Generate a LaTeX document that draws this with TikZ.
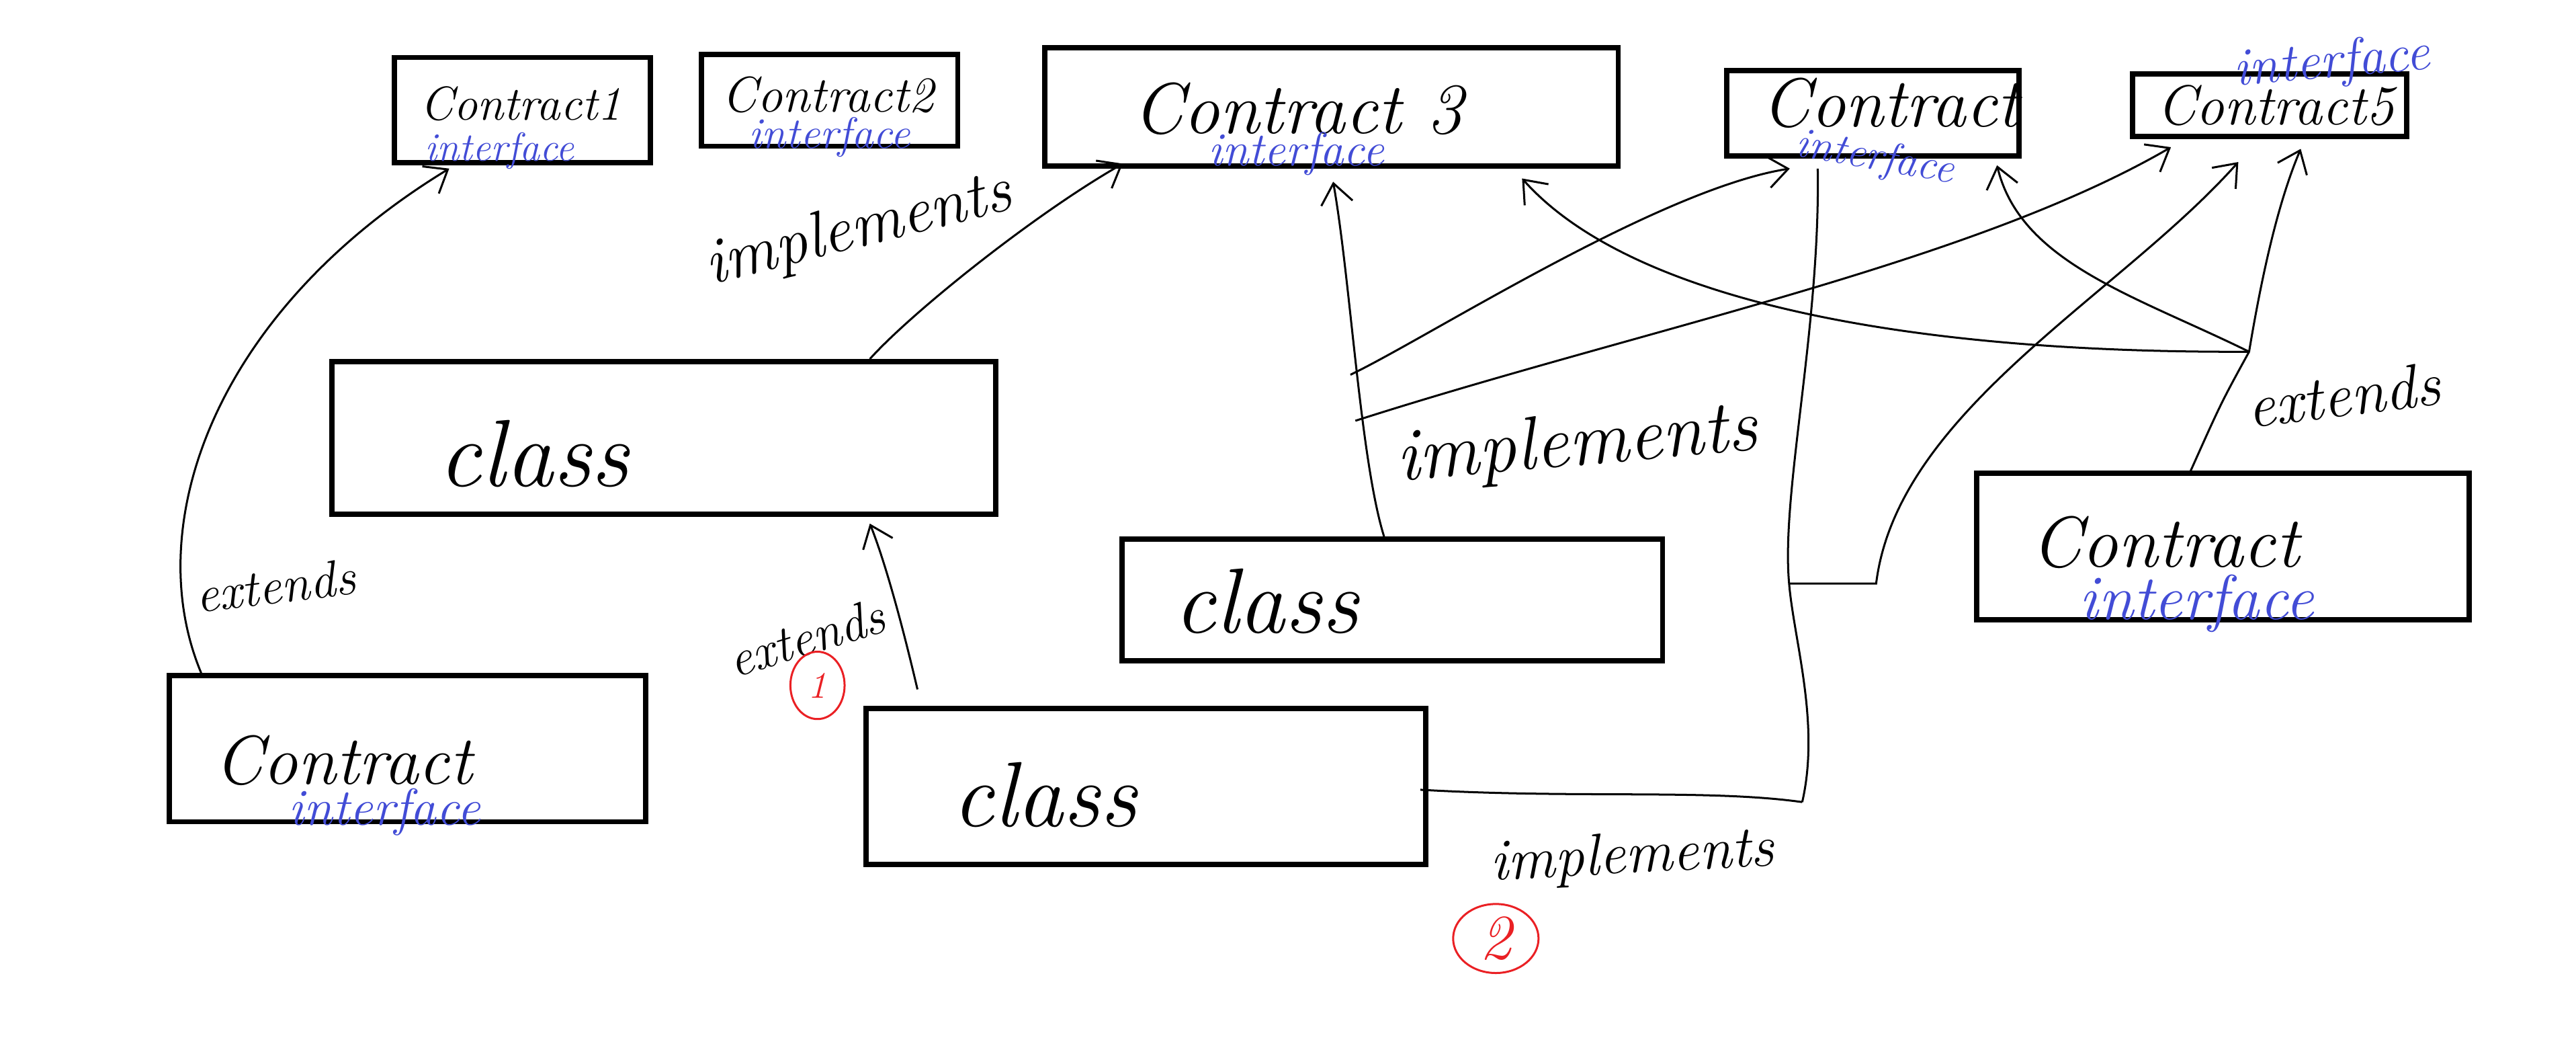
\documentclass[tikz,border=0pt]{standalone}
\usepackage{fontspec}
\usetikzlibrary{arrows.meta,calc,shapes.geometric}

\definecolor{ifblue}{RGB}{66,76,214}
\definecolor{numred}{RGB}{234,32,36}
\newcommand{\hf}[1]{\fontsize{#1}{#1}\selectfont\itshape}

\tikzset{
  box/.style={draw, line width=1.8pt, inner sep=0pt},
  word/.style={inner sep=0pt, anchor=base},
  iface/.style={word, text=ifblue},
  rel/.style={line width=0.7pt, -{Straight Barb[length=7pt,width=11pt]}},
  link/.style={line width=0.7pt},
  numring/.style={draw=numred, text=numred, line width=0.7pt, ellipse, inner sep=0pt}
}

\begin{document}
\begin{tikzpicture}[x=0.02cm, y=-0.02cm]
\useasboundingbox (0,0) rectangle (1568,641);

% interfaces along the top
\node[box, minimum width=3.12cm, minimum height=1.28cm] (c1) at (318,67) {};
\node[box, minimum width=3.12cm, minimum height=1.12cm] (c2) at (505,61) {};
\node[box, minimum width=6.98cm, minimum height=1.44cm] (c3) at (810.5,65) {};
\node[box, minimum width=3.56cm, minimum height=1.04cm] (c4) at (1140,69) {};
\node[box, minimum width=3.34cm, minimum height=0.76cm] (c5) at (1381.5,64) {};
% classes
\node[box, minimum width=8.08cm, minimum height=1.86cm] (cls1) at (404,266.5) {};
\node[box, minimum width=6.58cm, minimum height=1.48cm] (cls2) at (847.5,365) {};
\node[box, minimum width=6.82cm, minimum height=1.9cm] (cls3) at (697.5,478.5) {};
% lower interfaces
\node[box, minimum width=5.8cm, minimum height=1.78cm] (cl) at (248,455.5) {};
\node[box, minimum width=6cm, minimum height=1.78cm] (cr) at (1353,332.5) {};

% texts in the boxes
\node[word, font=\hf{16.5}] (c1name) at (317,73) {Contract1};
\node[iface, font=\hf{14}] (c1kind) at (304,98) {interface};
\node[word, font=\hf{17.4}] (c2name) at (504,68) {Contract2};
\node[iface, font=\hf{15.2}] (c2kind) at (505,90) {interface};
\node[word, font=\hf{25}] (c3name) at (790,81) {Contract 3};
\node[iface, font=\hf{16.5}] (c3kind) at (789,101) {interface};
\node[word, font=\hf{24}] (c4name) at (1151,77) {Contract};
\node[iface, font=\hf{15}, rotate=-10] (c4kind) at (1140,103) {interface};
\node[word, font=\hf{19.5}] (c5name) at (1385,76) {Contract5};
\node[iface, font=\hf{18.5}, rotate=5] (c5kind) at (1420,47) {interface};
\node[word, font=\hf{33}] (cls1name) at (325,296) {class};
\node[word, font=\hf{32}] (cls2name) at (771,385) {class};
\node[word, font=\hf{32}] (cls3name) at (636,503) {class};
\node[word, font=\hf{24}] (clname) at (209,477) {Contract};
\node[iface, font=\hf{18}] (clkind) at (234,502) {interface};
\node[word, font=\hf{25}] (crname) at (1318,345) {Contract};
\node[iface, font=\hf{22}] (crkind) at (1337,377) {interface};

% labels on the connectors
\node[word, font=\hf{22.5}, rotate=14] (impl1) at (525,150) {implements};
\node[word, font=\hf{26}, rotate=5] (impl2) at (961,283) {implements};
\node[word, font=\hf{20.4}, rotate=3] (impl3) at (994,531) {implements};
\node[word, font=\hf{17.8}, rotate=7] (ext1) at (169,367) {extends};
\node[word, font=\hf{17.8}, rotate=17] (ext2) at (494,398) {extends};
\node[word, font=\hf{21.5}, rotate=7] (ext3) at (1428,253) {extends};
\node[numring, minimum width=0.66cm, minimum height=0.82cm, font=\hf{13}] (n1) at (497.6,417) {1};
\node[numring, minimum width=1.04cm, minimum height=0.84cm, font=\hf{22}] (n2) at (910.5,571) {2};

% junctions
\coordinate (j1) at (822,228);
\coordinate (j2) at (825,256);
\coordinate (j3) at (1369,214);
\coordinate (j4) at (1097,488);
\coordinate (j5) at (1089,355);

% left interface extends Contract1
\draw[rel] ($(cl.north west)+(21,0)$) .. controls (85,320) and (130,190) .. ($(c1.south west)+(35,2)$);
% upper class implements Contract 3
\draw[rel] ($(cls1.north west)+(329,0)$) .. controls (555,190) and (630,130) .. ($(c3.south west)+(49,-3)$);
% lower class extends upper class
\draw[rel] ($(cls3.north west)+(33,-10)$) .. controls (548,375) and (538,340) .. ($(cls1.south west)+(329,4)$);
% middle class implements 3, 4 and 5
\draw[rel] ($(cls2.north west)+(161,0)$) .. controls (828,280) and (822,170) .. ($(c3.south west)+(177,8)$);
\draw[rel] (j1) .. controls (870,205) and (1010,115) .. ($(c4.south west)+(40,6)$);
\draw[rel] (j2) .. controls (1000,200) and (1200,160) .. ($(c5.south west)+(25,5)$);
% right interface extends 5, 4 and 3
\draw[rel] ($(cr.north west)+(132,0)$) .. controls (1352,245) .. (j3) .. controls (1378,160) and (1388,120) .. ($(c5.south west)+(104,6)$);
\draw[rel] (j3) .. controls (1300,180) and (1230,160) .. ($(c4.south east)+(-15,4)$);
\draw[rel] (j3) .. controls (1150,215) and (990,180) .. ($(c3.south west)+(292,6)$);
% lower class implements 4 and 5
\draw[link] ($(cls3.east)+(-5,2)$) .. controls (960,486) and (1040,480) .. (j4);
\draw[link] (j4) .. controls (1108,440) and (1092,390) .. (j5) .. controls (1084,300) and (1108,200) .. ($(c4.south west)+(57,6)$);
\draw[rel] (j5) -- (1142,355) .. controls (1155,250) and (1290,180) .. ($(c5.south west)+(66,14)$);
\end{tikzpicture}
\end{document}
